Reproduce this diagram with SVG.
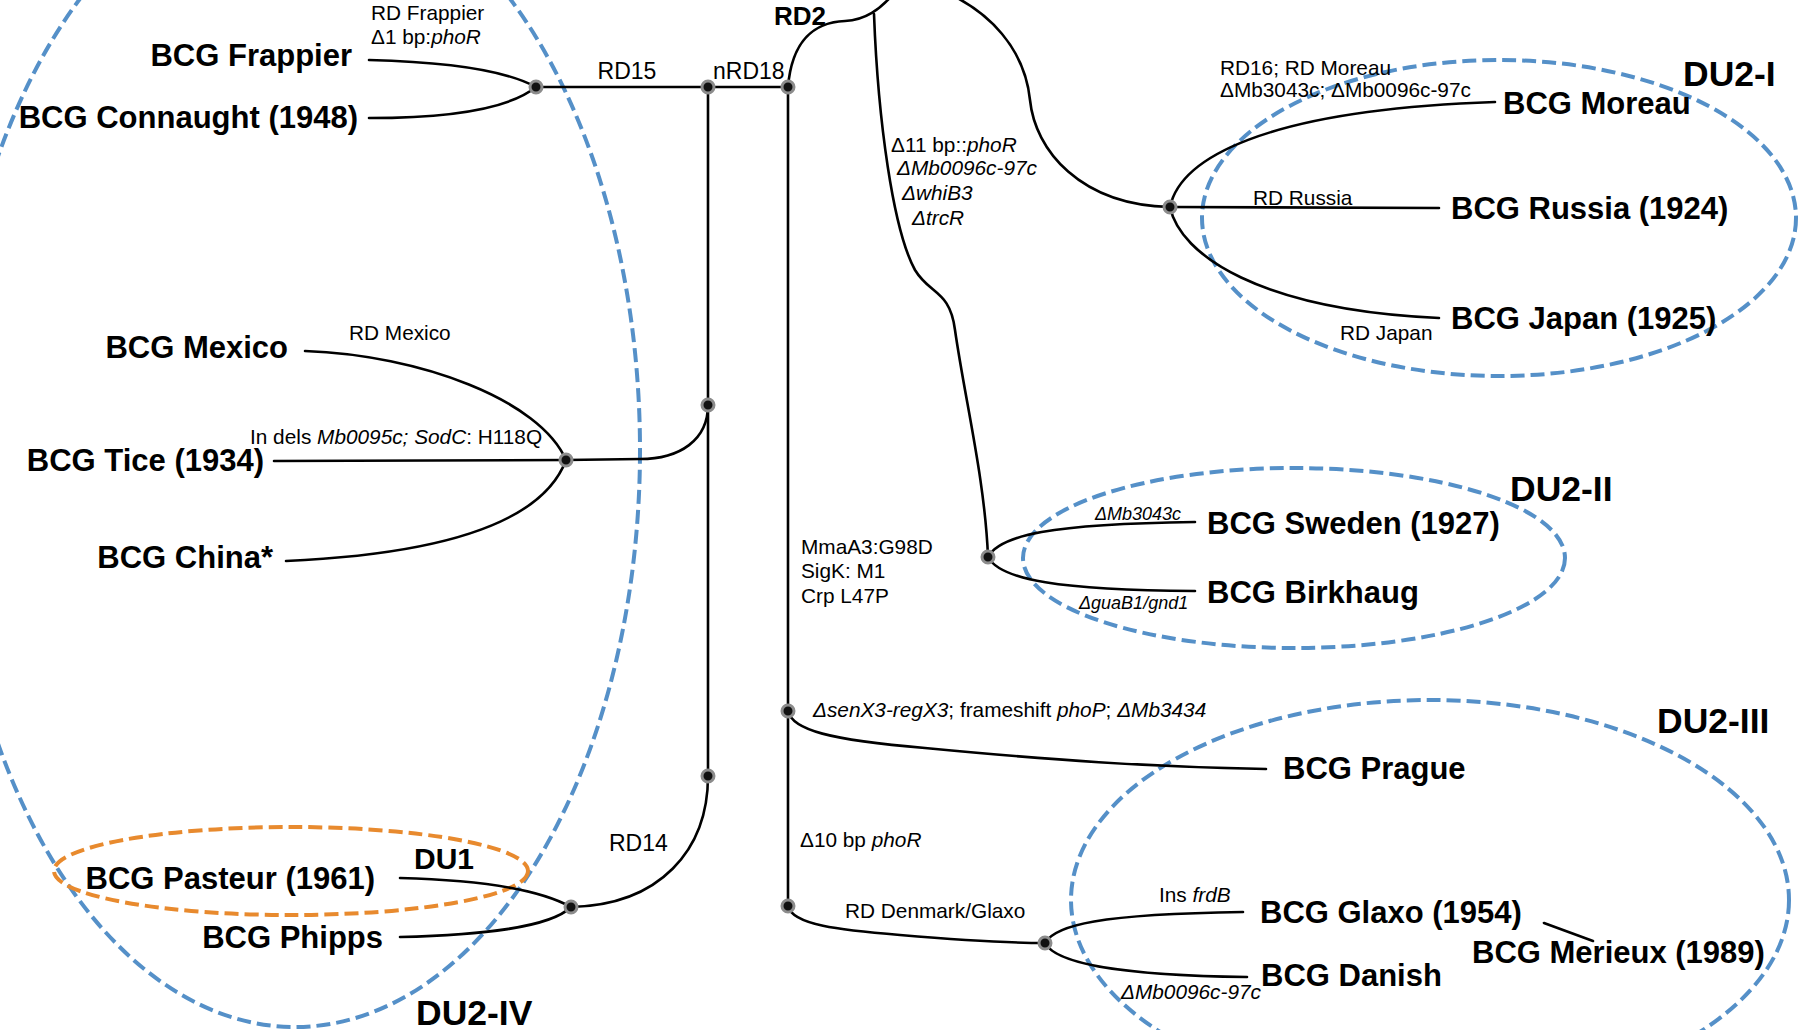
<svg xmlns="http://www.w3.org/2000/svg" width="1798" height="1030" viewBox="0 0 1798 1030">
  <defs>
    <style>
      .edge { fill: none; stroke: #000; stroke-width: 2.6; stroke-linecap: round; }
      .du2 { fill: none; stroke: #5590c8; stroke-width: 4; stroke-dasharray: 14 6; }
      .du1 { fill: none; stroke: #e88a2e; stroke-width: 4; stroke-dasharray: 14 6; }
      .bp { fill: #111; stroke: #8c8c8c; stroke-width: 3; }
      .strain { font-family: "Liberation Sans", Arial, sans-serif; font-weight: bold; font-size: 31px; fill: #000; }
      .cluster { font-family: "Liberation Sans", Arial, sans-serif; font-weight: bold; font-size: 35.5px; fill: #000; }
      .mut { font-family: "Liberation Sans", Arial, sans-serif; font-size: 20.8px; fill: #000; }
      .mut-s { font-family: "Liberation Sans", Arial, sans-serif; font-size: 18px; font-style: italic; fill: #000; }
      .rd { font-family: "Liberation Sans", Arial, sans-serif; font-size: 23px; fill: #000; }
      .it { font-style: italic; }
      .end { text-anchor: end; }
    </style>
  </defs>
  <rect width="1798" height="1030" fill="#fff"/>

  <!-- daughter-strain clusters -->
  <g id="clusters">
    <ellipse id="du2-iv-ring" class="du2" cx="295" cy="450" rx="345" ry="577"/>
    <ellipse id="du1-ring" class="du1" cx="291" cy="871" rx="237" ry="44"/>
    <ellipse id="du2-i-ring" class="du2" cx="1499" cy="218" rx="297" ry="158"/>
    <ellipse id="du2-ii-ring" class="du2" cx="1294" cy="558" rx="271" ry="90"/>
    <ellipse id="du2-iii-ring" class="du2" cx="1430" cy="900" rx="359" ry="200"/>
  </g>

  <!-- tree branches -->
  <g id="connectors">
    <path class="edge" d="M369 60 C450 62 505 70 536 87"/>
    <path class="edge" d="M369 118 C450 118 510 108 536 87"/>
    <path class="edge" d="M536 87 L788 87"/>
    <path class="edge" d="M708 87 L708 776"/>
    <path class="edge" d="M788 87 L788 906"/>
    <path class="edge" d="M788 87 C792 40 815 22 845 21 C865 20 880 10 895 -8"/>
    <path class="edge" d="M874 14 C878 120 893 230 915 270 C930 295 950 290 955 330 C965 400 985 480 988 557"/>
    <path class="edge" d="M940 -10 C990 10 1025 50 1030 100 C1035 150 1080 205 1170 207"/>
    <path class="edge" d="M1170 207 C1180 160 1260 110 1495 102"/>
    <path class="edge" d="M1170 207 L1439 208"/>
    <path class="edge" d="M1170 207 C1180 255 1260 310 1439 318"/>
    <path class="edge" d="M988 557 C1000 535 1050 524 1195 522"/>
    <path class="edge" d="M988 557 C1000 580 1060 590 1195 591"/>
    <path class="edge" d="M305 351 C420 355 540 400 566 460"/>
    <path class="edge" d="M274 461 L566 460"/>
    <path class="edge" d="M286 561 C420 555 540 530 566 460"/>
    <path class="edge" d="M566 460 L640 459 C680 459 708 440 708 405"/>
    <path class="edge" d="M708 776 C708 850 660 905 571 907"/>
    <path class="edge" d="M400 878 C480 880 540 890 571 907"/>
    <path class="edge" d="M400 937 C480 935 550 928 571 907"/>
    <path class="edge" d="M788 711 C792 730 830 740 925 748 C1050 760 1150 767 1266 769"/>
    <path class="edge" d="M788 906 C792 925 840 930 900 935 C960 940 1010 943 1045 943"/>
    <path class="edge" d="M1045 943 C1055 925 1100 914 1243 912"/>
    <path class="edge" d="M1045 943 C1055 962 1110 975 1247 977"/>
    <path class="edge" d="M1544 923 L1593 941"/>
  </g>

  <!-- branch points -->
  <g id="branch-points">
    <circle class="bp" cx="536" cy="87" r="6"/>
    <circle class="bp" cx="708" cy="87" r="6"/>
    <circle class="bp" cx="788" cy="87" r="6"/>
    <circle class="bp" cx="708" cy="405" r="6"/>
    <circle class="bp" cx="566" cy="460" r="6"/>
    <circle class="bp" cx="708" cy="776" r="6"/>
    <circle class="bp" cx="571" cy="907" r="6"/>
    <circle class="bp" cx="788" cy="711" r="6"/>
    <circle class="bp" cx="788" cy="906" r="6"/>
    <circle class="bp" cx="1045" cy="943" r="6"/>
    <circle class="bp" cx="988" cy="557" r="6"/>
    <circle class="bp" cx="1170" cy="207" r="6"/>
  </g>

  <!-- strains -->
  <g id="bcg-frappier"><text class="strain end" x="352" y="66">BCG Frappier</text></g>
  <g id="bcg-connaught"><text class="strain end" x="358" y="128">BCG Connaught (1948)</text></g>
  <g id="bcg-mexico"><text class="strain end" x="288" y="358">BCG Mexico</text></g>
  <g id="bcg-tice"><text class="strain end" x="264" y="471">BCG Tice (1934)</text></g>
  <g id="bcg-china"><text class="strain end" x="273" y="568">BCG China*</text></g>
  <g id="bcg-pasteur"><text class="strain end" x="375" y="889">BCG Pasteur (1961)</text></g>
  <g id="bcg-phipps"><text class="strain end" x="383" y="948">BCG Phipps</text></g>
  <g id="bcg-moreau"><text class="strain" x="1503" y="114">BCG Moreau</text></g>
  <g id="bcg-russia"><text class="strain" x="1451" y="219">BCG Russia (1924)</text></g>
  <g id="bcg-japan"><text class="strain" x="1451" y="329">BCG Japan (1925)</text></g>
  <g id="bcg-sweden"><text class="strain" x="1207" y="534">BCG Sweden (1927)</text></g>
  <g id="bcg-birkhaug"><text class="strain" x="1207" y="603">BCG Birkhaug</text></g>
  <g id="bcg-prague"><text class="strain" x="1283" y="779">BCG Prague</text></g>
  <g id="bcg-glaxo"><text class="strain" x="1260" y="923">BCG Glaxo (1954)</text></g>
  <g id="bcg-danish"><text class="strain" x="1261" y="986">BCG Danish</text></g>
  <g id="bcg-merieux"><text class="strain" x="1472" y="963">BCG Merieux (1989)</text></g>

  <!-- cluster names -->
  <g id="du-labels">
    <text class="cluster" x="1683" y="86">DU2-I</text>
    <text class="cluster" x="1510" y="501">DU2-II</text>
    <text class="cluster" x="1657" y="733">DU2-III</text>
    <text class="cluster" x="416" y="1025">DU2-IV</text>
    <text class="cluster" x="414" y="869" style="font-size:30px">DU1</text>
  </g>

  <!-- mutations along branches -->
  <g id="branch-labels">
    <text class="mut" x="371" y="20">RD Frappier</text>
    <text class="mut" x="371" y="44">Δ1 bp:<tspan class="it">phoR</tspan></text>
    <text class="rd" x="627" y="79" text-anchor="middle">RD15</text>
    <text class="rd" x="713" y="79">nRD18</text>
    <text class="rd" x="774" y="25" style="font-weight:bold;font-size:26px">RD2</text>
    <text class="mut" x="891" y="152">Δ11 bp::<tspan class="it">phoR</tspan></text>
    <text class="mut it" x="897" y="175">ΔMb0096c-97c</text>
    <text class="mut it" x="902" y="200">ΔwhiB3</text>
    <text class="mut it" x="912" y="225">ΔtrcR</text>
    <text class="mut" x="1220" y="75">RD16; RD Moreau</text>
    <text class="mut" x="1220" y="97">ΔMb3043c; ΔMb0096c-97c</text>
    <text class="mut" x="1253" y="205">RD Russia</text>
    <text class="mut" x="1340" y="340">RD Japan</text>
    <text class="mut" x="349" y="340">RD Mexico</text>
    <text class="mut" x="250" y="444">In dels <tspan class="it">Mb0095c; SodC</tspan>: H118Q</text>
    <text class="mut" x="801" y="554">MmaA3:G98D</text>
    <text class="mut" x="801" y="578">SigK: M1</text>
    <text class="mut" x="801" y="603">Crp L47P</text>
    <text class="mut-s" x="1095" y="520">ΔMb3043c</text>
    <text class="mut-s" x="1079" y="609">ΔguaB1/gnd1</text>
    <text class="mut" x="813" y="717"><tspan class="it">ΔsenX3-regX3</tspan>; frameshift <tspan class="it">phoP</tspan>; <tspan class="it">ΔMb3434</tspan></text>
    <text class="mut" x="800" y="847">Δ10 bp <tspan class="it">phoR</tspan></text>
    <text class="mut" x="845" y="918">RD Denmark/Glaxo</text>
    <text class="mut" x="1159" y="902">Ins <tspan class="it">frdB</tspan></text>
    <text class="mut it" x="1121" y="999">ΔMb0096c-97c</text>
    <text class="rd" x="609" y="851">RD14</text>
  </g>
</svg>
